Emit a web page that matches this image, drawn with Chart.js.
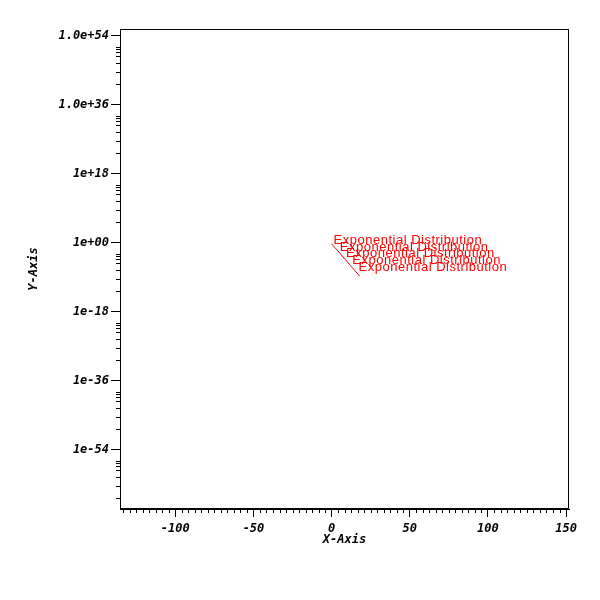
<!DOCTYPE html>
<html>
<head>
<meta charset="utf-8">
<script src="https://cdn.jsdelivr.net/npm/chart.js@4"></script>
<style>
  html, body { margin: 0; padding: 0; background: #fff; }
  #wrap { width: 600px; height: 600px; }
</style>
</head>
<body>
<div id="wrap"><canvas id="MyChart" width="600" height="600"></canvas></div>
<script>
// values
const lineX = [0, 3, 6, 9, 12, 15, 18];
const lineY = [0.46, 0.018, 6.9e-4, 2.7e-5, 1.05e-6, 4.1e-8, 1.6e-9];
const labelX = [0, 4, 8, 12, 16];
const labelY = [0.46, 0.0079, 1.4e-4, 2.4e-6, 4.2e-8];
const labelText = 'Exponential Distribution';

const xTicks = [-100, -50, 0, 50, 100, 150];
const yTickExps = [54, 36, 18, 0, -18, -36, -54];
const yTickLabels = ['1.0e+54', '1.0e+36', '1e+18', '1e+00', '1e-18', '1e-36', '1e-54'];
const yMinorFrac = [0.301, 0.477, 0.602, 0.699, 0.755, 0.80, 0.84];

const axisFont = { family: 'DejaVu Sans Mono', size: 12, style: 'italic', weight: 'bold' };

const extras = {
    id: 'extras',
    afterDraw(chart) {
        const c = chart.ctx;
        const a = chart.chartArea;
        const xs = chart.scales.x;
        const ys = chart.scales.y;
        c.save();
        c.strokeStyle = '#000';
        c.lineWidth = 1;
        // frame
        c.strokeRect(Math.round(a.left) + 0.5, Math.round(a.top) + 0.5,
            Math.round(a.right - a.left) - 1, Math.round(a.bottom - a.top) - 1);
        // minor ticks
        c.beginPath();
        for (let e = -72; e <= 54; e += 18) {
            yMinorFrac.forEach(f => {
                const v = Math.pow(10, e + 18 * f);
                if (v < ys.min || v > ys.max) return;
                const py = Math.round(ys.getPixelForValue(v)) + 0.5;
                c.moveTo(a.left - 4, py);
                c.lineTo(a.left, py);
            });
        }
        for (let i = 0; i <= 72; i++) {
            if (i % 12 == 0) continue;
            const v = -150 + i * 50 / 12;
            if (v < xs.min || v > xs.max) continue;
            const px = Math.round(xs.getPixelForValue(v)) + 0.5;
            c.moveTo(px, a.bottom);
            c.lineTo(px, a.bottom + 4);
        }
        c.stroke();
        // point labels
        const meta = chart.getDatasetMeta(1);
        c.fillStyle = '#ff0000';
        c.font = '13px "Liberation Sans"';
        c.letterSpacing = '0.5px';
        c.textAlign = 'left';
        c.textBaseline = 'alphabetic';
        meta.data.forEach(p => {
            c.fillText(labelText, p.x + 2, p.y);
        });
        c.restore();
    }
};

const ctx = document.getElementById('MyChart').getContext('2d');
let myChart = new Chart(ctx, {
    type: 'line',
    data: {
        datasets: [{
            label: 'line',
            data: lineX.map((x, i) => ({ x: x, y: lineY[i] })),
            borderColor: '#ff0000',
            borderWidth: 1,
            pointRadius: 0,
            fill: false,
            tension: 0
        }, {
            label: 'labels',
            data: labelX.map((x, i) => ({ x: x, y: labelY[i] })),
            showLine: false,
            pointRadius: 0,
            borderColor: 'rgba(0,0,0,0)'
        }]
    },
    options: {
        responsive: false,
        animation: false,
        devicePixelRatio: 1,
        layout: { padding: { left: 0, top: 29, right: 31, bottom: 0 } },
        plugins: { legend: { display: false }, tooltip: { enabled: false } },
        scales: {
            x: {
                type: 'linear',
                min: -135.4,
                max: 151.9,
                afterBuildTicks: s => { s.ticks = xTicks.map(v => ({ value: v })); },
                afterFit: s => { s.height = 91; },
                ticks: {
                    color: '#000',
                    font: axisFont,
                    padding: 5,
                    maxRotation: 0,
                    callback: v => String(v)
                },
                grid: { drawOnChartArea: false, tickLength: 8, tickColor: '#000', tickWidth: 1 },
                border: { color: '#000', width: 1 },
                title: {
                    display: true,
                    text: 'X-Axis',
                    color: '#000',
                    font: axisFont,
                    padding: { top: 0, bottom: 53 }
                }
            },
            y: {
                type: 'logarithmic',
                min: Math.pow(10, -69.5),
                max: Math.pow(10, 55.7),
                afterBuildTicks: s => { s.ticks = yTickExps.map(e => ({ value: Math.pow(10, e) })); },
                afterFit: s => { s.width = 120; },
                ticks: {
                    color: '#000',
                    font: axisFont,
                    padding: 2,
                    callback: (v, i) => yTickLabels[i]
                },
                grid: { drawOnChartArea: false, tickLength: 9, tickColor: '#000', tickWidth: 1 },
                border: { color: '#000', width: 1 },
                title: {
                    display: true,
                    text: 'Y-Axis',
                    color: '#000',
                    font: axisFont,
                    padding: { top: 27, bottom: 0 }
                }
            }
        }
    },
    plugins: [extras]
});
</script>
</body>
</html>
